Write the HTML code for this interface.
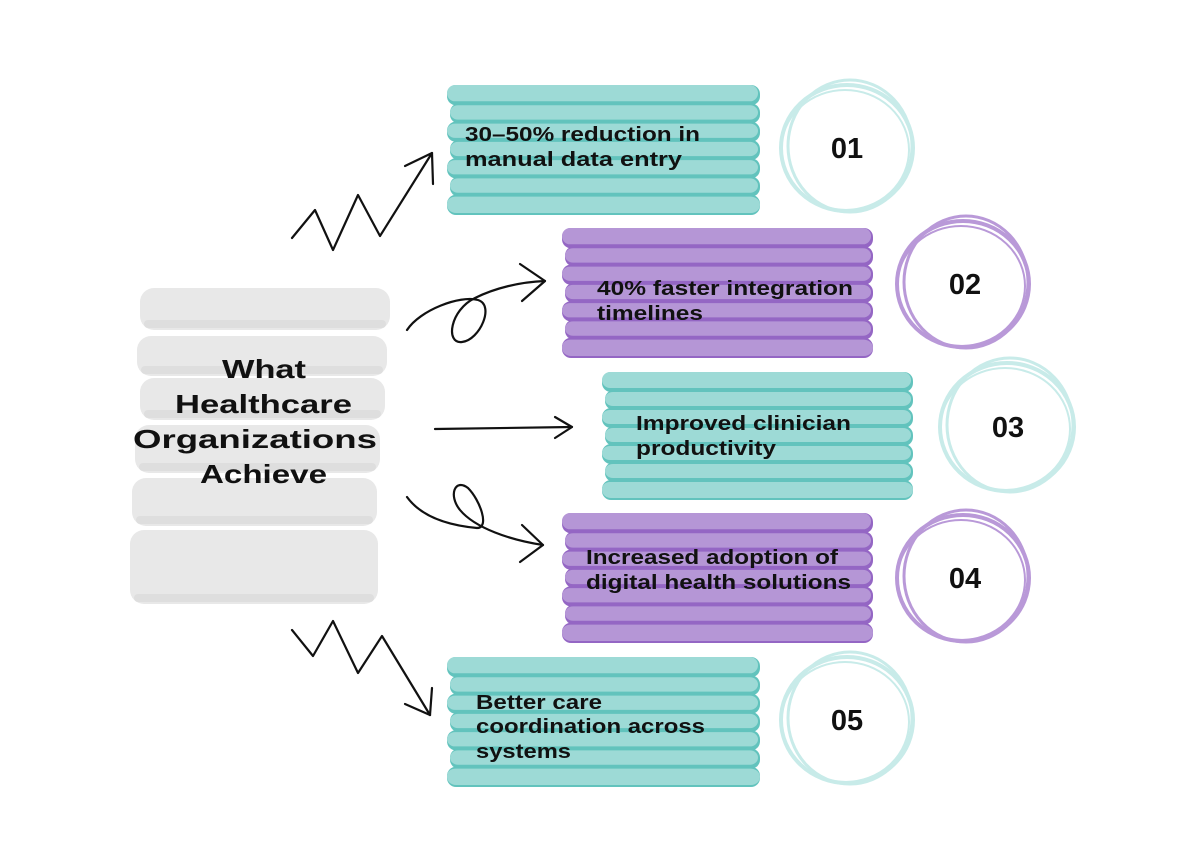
<!DOCTYPE html>
<html><head><meta charset="utf-8"><style>
html,body{margin:0;padding:0;background:#fff;}
svg{display:block;}
text{font-family:"Liberation Sans",sans-serif;font-weight:bold;fill:#111;}
</style></head><body>
<svg id="s" width="1200" height="860" viewBox="0 0 1200 860" xmlns="http://www.w3.org/2000/svg">
<g id="shapes"></g>
<g fill="none" stroke="#111" stroke-width="2.2" stroke-linecap="round" stroke-linejoin="round">
<path d="M292,238 L315,210 L333,250 L358,195 L380,236 L432,153"/>
<path d="M405,166 L432,153 L433,184"/>
<path d="M407,330 C420,310 460,295 478,300 C495,305 480,340 462,342 C445,344 450,310 475,298 C495,288 520,282 545,281"/>
<path d="M520,264 L545,281 L522,301"/>
<path d="M435,429 L572,427"/>
<path d="M555,417 L572,427 L555,438"/>
<path d="M407,497 C420,515 445,525 477,528 C490,528 480,500 468,488 C455,478 448,495 460,510 C475,528 510,540 543,545"/>
<path d="M522,525 L543,545 L520,562"/>
<path d="M292,630 L313,656 L333,621 L358,673 L382,636 L430,715"/>
<path d="M405,704 L430,715 L432,688"/>
</g>
<g>
<text x="222" y="378" font-size="26" textLength="84" lengthAdjust="spacingAndGlyphs">What</text>
<text x="175" y="413" font-size="26" textLength="177" lengthAdjust="spacingAndGlyphs">Healthcare</text>
<text x="133" y="448" font-size="26" textLength="244" lengthAdjust="spacingAndGlyphs">Organizations</text>
<text x="200" y="483" font-size="26" textLength="127" lengthAdjust="spacingAndGlyphs">Achieve</text>
<text x="465" y="141" font-size="20" textLength="235" lengthAdjust="spacingAndGlyphs">30–50% reduction in</text>
<text x="465" y="166" font-size="20" textLength="217" lengthAdjust="spacingAndGlyphs">manual data entry</text>
<text x="597" y="295" font-size="20" textLength="256" lengthAdjust="spacingAndGlyphs">40% faster integration</text>
<text x="597" y="320" font-size="20" textLength="106" lengthAdjust="spacingAndGlyphs">timelines</text>
<text x="636" y="430" font-size="20" textLength="215" lengthAdjust="spacingAndGlyphs">Improved clinician</text>
<text x="636" y="455" font-size="20" textLength="140" lengthAdjust="spacingAndGlyphs">productivity</text>
<text x="586" y="564" font-size="20" textLength="252" lengthAdjust="spacingAndGlyphs">Increased adoption of</text>
<text x="586" y="589" font-size="20" textLength="265" lengthAdjust="spacingAndGlyphs">digital health solutions</text>
<text x="476" y="709" font-size="20" textLength="126" lengthAdjust="spacingAndGlyphs">Better care</text>
<text x="476" y="733" font-size="20" textLength="229" lengthAdjust="spacingAndGlyphs">coordination across</text>
<text x="476" y="758" font-size="20" textLength="95" lengthAdjust="spacingAndGlyphs">systems</text>
<text x="847" y="158" font-size="29" text-anchor="middle">01</text>
<text x="965" y="294" font-size="29" text-anchor="middle">02</text>
<text x="1008" y="437" font-size="29" text-anchor="middle">03</text>
<text x="965" y="588" font-size="29" text-anchor="middle">04</text>
<text x="847" y="730" font-size="29" text-anchor="middle">05</text>
</g>
</svg>
<script>
var g=document.getElementById('shapes'),NS='http://www.w3.org/2000/svg';
function el(t,a){var e=document.createElementNS(NS,t);for(var k in a)e.setAttribute(k,a[k]);g.appendChild(e);return e;}
function block(x,y,w,h,light,dark){
  var n=7,s=h/n;
  for(var i=0;i<n;i++){
    var yy=y+i*s, off=(i%2)*3;
    el('rect',{x:x+off,y:yy,width:w-off,height:s+2,rx:9,fill:dark});
    el('rect',{x:x+off,y:yy+(i==0?0:2),width:w-off-2,height:s-4-(i==0?-2:0),rx:8,fill:light});
  }
  el('rect',{x:x,y:y+h-s+2,width:w,height:s-2,rx:9,fill:light});
}
block(447,85,313,128,'#9ddad6','#62c3bd');
block(562,228,311,128,'#b596d6','#9466c4');
block(602,372,311,126,'#9ddad6','#62c3bd');
block(562,513,311,128,'#b596d6','#9466c4');
block(447,657,313,128,'#9ddad6','#62c3bd');
var gs=[[140,288,250,42],[137,336,250,40],[140,378,245,42],[135,425,245,48],[132,478,245,48],[130,530,248,74]];
gs.forEach(function(r){el('rect',{x:r[0],y:r[1],width:r[2],height:r[3],rx:14,fill:'#e8e8e8'});
 el('rect',{x:r[0]+4,y:r[1]+r[3]-10,width:r[2]-8,height:8,rx:4,fill:'#dedede'});});
function circ(cx,cy,r,c){
  el('ellipse',{cx:cx,cy:cy,rx:r,ry:r-3,fill:'none',stroke:c,'stroke-width':4});
  el('ellipse',{cx:cx+3,cy:cy-2,rx:r-4,ry:r,fill:'none',stroke:c,'stroke-width':3});
  el('ellipse',{cx:cx-2,cy:cy+2,rx:r-2,ry:r-6,fill:'none',stroke:c,'stroke-width':2});
}
circ(847,148,66,'#c8ebe9');
circ(963,284,66,'#b999d8');
circ(1007,427,67,'#c8ebe9');
circ(963,578,66,'#b999d8');
circ(847,720,66,'#c8ebe9');
</script>
</body></html>
